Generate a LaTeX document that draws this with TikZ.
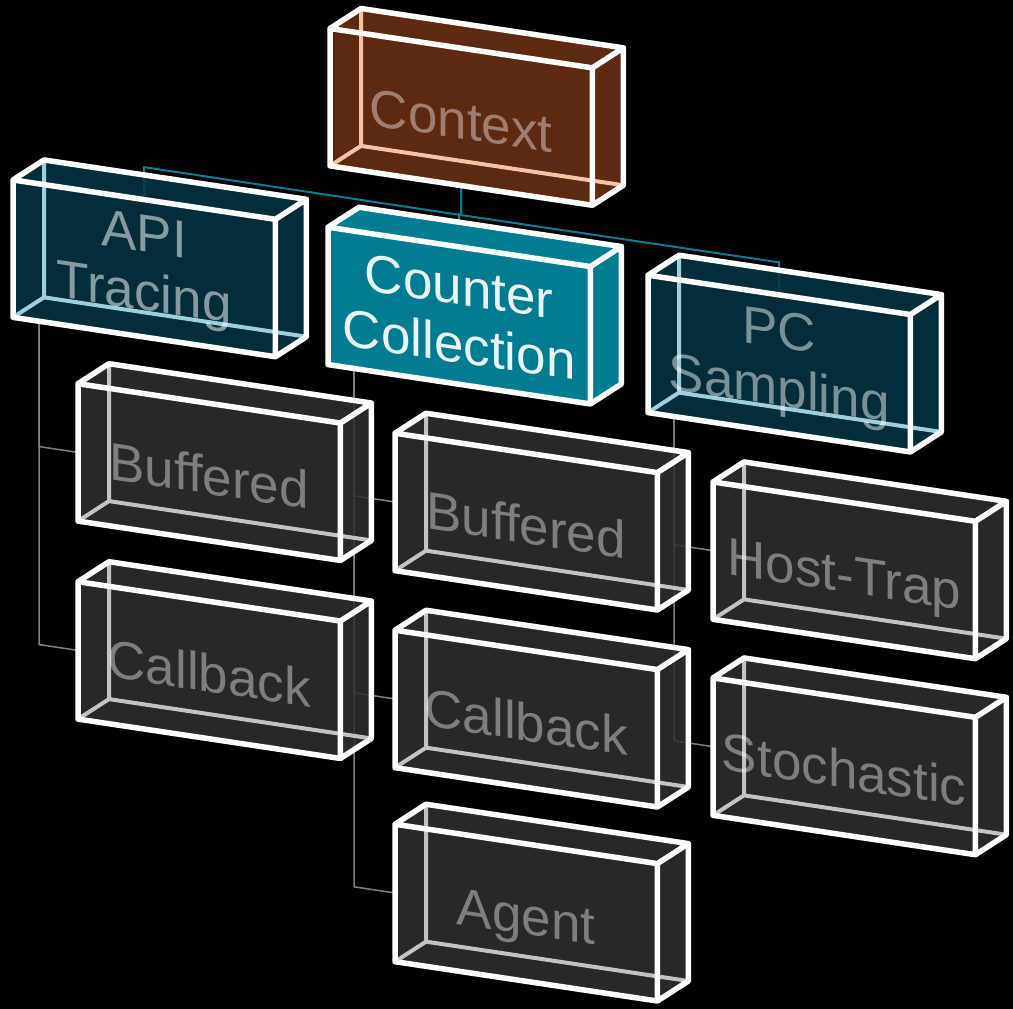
\documentclass[tikz,border=0pt]{standalone}
\usepackage{fontspec}
\setmainfont{Liberation Sans}
\usetikzlibrary{calc}
\pgfdeclarelayer{backdrop}
\pgfdeclarelayer{links}
\pgfdeclarelayer{bodies}
\pgfsetlayers{backdrop,links,bodies,main}

\definecolor{greyfill}{HTML}{2E3030}
\definecolor{greyedge}{HTML}{C2C3C3}
\definecolor{tealfill}{HTML}{023744}
\definecolor{tealedge}{HTML}{9DD0DD}
\definecolor{ctxfill}{HTML}{6E3114}
\definecolor{ctxedge}{HTML}{F8C2A4}
\definecolor{ccfill}{HTML}{017C92}
\definecolor{cctext}{HTML}{E8F4F6}
\definecolor{linkgrey}{HTML}{7F7F7F}
\definecolor{linkteal}{HTML}{0A7D93}

\tikzset{
  cube/.style={rectangle, minimum width=262pt, minimum height=137pt,
    inner sep=0pt, anchor=north west, transform shape, align=center,
    font=\fontsize{53}{58}\selectfont, text=white},
  oneline/.style={text height=44pt, text depth=0pt},
  leaf/.style={cube, oneline, text opacity=0.4},
  branch/.style={cube, text opacity=0.47},
  brightbranch/.style={cube, text opacity=0.52},
  rootcube/.style={cube, oneline, text opacity=0.4},
  hotcube/.style={cube, text=cctext},
  edge front/.style={draw=white, line width=5.5pt, line join=round, line cap=round},
  edge hidden/.style={line width=4pt, line join=round, line cap=round},
  grey link/.style={draw=linkgrey, line width=1.5pt},
  teal link/.style={draw=linkteal, line width=2pt},
}

% 3-D body of a box: filled silhouette, hidden rear edges, white outline
\newcommand\cubebody[4]{%
  \coordinate (#1-tl) at ($(#1.north west)+(31,-24.65)$);
  \coordinate (#1-tr) at ($(#1.north east)+(31,-24.65)$);
  \coordinate (#1-br) at ($(#1.south east)+(31,-24.65)$);
  \coordinate (#1-bl) at ($(#1.south west)+(31,-24.65)$);
  \fill[#2, fill opacity=#3] (#1.north west) -- (#1-tl) -- (#1-tr) -- (#1-br)
    -- (#1.south east) -- (#1.south west) -- cycle;
  \draw[edge hidden, #4] (#1-tl) -- (#1-bl) -- (#1-br) (#1-bl) -- (#1.south west);
  \draw[edge front] (#1.north west) -- (#1.north east) -- (#1.south east)
    -- (#1.south west) -- cycle
    (#1.north west) -- (#1-tl) -- (#1-tr) -- (#1-br) -- (#1.south east)
    (#1.north east) -- (#1-tr);
}

\begin{document}
\begin{tikzpicture}[x=1pt, y=-1pt]
\useasboundingbox (0,0) rectangle (1013,1009);
\begin{pgfonlayer}{backdrop}
  \fill[black] (0,0) rectangle (1013,1009);
\end{pgfonlayer}

\begin{scope}[yslant=-0.15]
  % level 0
  \node[rootcube] (ctx) at (330,-21) {Context};
  % level 1
  \node[brightbranch] (api) at (13,178)  {API\\Tracing};
  \node[hotcube]      (cc)  at (328,178) {Counter\\Collection};
  \node[branch]       (pc)  at (648,178) {PC\\Sampling};
  % level 2 and below
  \node[leaf] (apibuf) at (78,372)  {Buffered};
  \node[leaf] (apicb)  at (78,570)  {Callback};
  \node[leaf] (ccbuf)  at (395,374) {Buffered};
  \node[leaf] (cccb)   at (395,571) {Callback};
  \node[leaf] (agent)  at (395,765) {Agent};
  \node[leaf] (host)   at (713,375) {Host-Trap};
  \node[leaf] (stoch)  at (713,571) {Stochastic};

  % connectors
  \begin{pgfonlayer}{links}
    \draw[teal link] (ctx.south) -- ($(ctx.south)+(0,29.5)$)
      -- ($(api.north)+(0,-32.5)$) -- (api.north);
    \draw[teal link] (ctx.south) -- ($(ctx.south)+(0,29.5)$)
      -- ($(cc.north)+(0,-32.5)$) -- (cc.north);
    \draw[teal link] (ctx.south) -- ($(ctx.south)+(0,29.5)$)
      -- ($(pc.north)+(0,-32.5)$) -- (pc.north);

    \draw[grey link] ($(api.south west)+(26,0)$) -- ($(apibuf.west)+(-39,0)$) -- (apibuf.west);
    \draw[grey link] ($(api.south west)+(26,0)$) -- ($(apicb.west)+(-39,0)$) -- (apicb.west);
    \draw[grey link] ($(cc.south west)+(26,0)$) -- ($(ccbuf.west)+(-41,0)$) -- (ccbuf.west);
    \draw[grey link] ($(cc.south west)+(26,0)$) -- ($(cccb.west)+(-41,0)$) -- (cccb.west);
    \draw[grey link] ($(cc.south west)+(26,0)$) -- ($(agent.west)+(-41,0)$) -- (agent.west);
    \draw[grey link] ($(pc.south west)+(26,0)$) -- ($(host.west)+(-39,0)$) -- (host.west);
    \draw[grey link] ($(pc.south west)+(26,0)$) -- ($(stoch.west)+(-39,0)$) -- (stoch.west);
  \end{pgfonlayer}

  % box bodies
  \begin{pgfonlayer}{bodies}
    \cubebody{ctx}{ctxfill}{0.85}{draw=ctxedge}
    \cubebody{api}{tealfill}{0.85}{draw=tealedge}
    \cubebody{cc}{ccfill}{1}{draw=none}
    \cubebody{pc}{tealfill}{0.85}{draw=tealedge}
    \cubebody{apibuf}{greyfill}{0.85}{draw=greyedge}
    \cubebody{apicb}{greyfill}{0.85}{draw=greyedge}
    \cubebody{ccbuf}{greyfill}{0.85}{draw=greyedge}
    \cubebody{cccb}{greyfill}{0.85}{draw=greyedge}
    \cubebody{agent}{greyfill}{0.85}{draw=greyedge}
    \cubebody{host}{greyfill}{0.85}{draw=greyedge}
    \cubebody{stoch}{greyfill}{0.85}{draw=greyedge}
  \end{pgfonlayer}
\end{scope}
\end{tikzpicture}
\end{document}
